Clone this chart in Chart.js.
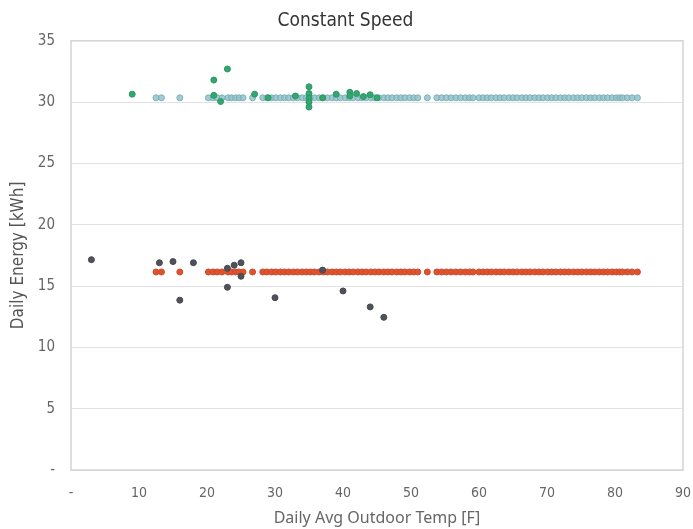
<!DOCTYPE html>
<html>
<head>
<meta charset="utf-8">
<script src="https://cdn.jsdelivr.net/npm/chart.js@4.4.1/dist/chart.umd.min.js"></script>
<style>
  html, body { margin: 0; padding: 0; background: #fff; }
  #wrap { width: 693px; height: 529px; }
</style>
</head>
<body>
<div id="wrap"><canvas id="myChart" width="693" height="529"></canvas></div>
<script>
// days that ran at the normal constant-speed level (same days for both units)
const BASE_TEMPS = [
    12.5, 13.3, 16.0, 20.2, 20.9, 21.5, 22.2, 23.1, 23.6, 24.2, 24.7, 25.3,
    26.7, 28.2, 28.8, 29.5, 30.1, 30.8, 31.4, 32.0, 32.7, 33.3, 34.0, 34.6,
    35.2, 35.8, 36.5, 37.1, 37.7, 38.4, 39.0, 39.6, 40.3, 40.9, 41.5, 42.2,
    42.8, 43.4, 44.1, 44.7, 45.3, 46.0, 46.6, 47.2, 47.9, 48.5, 49.1, 49.8,
    50.4, 51.0, 52.4, 53.8, 54.5, 55.2, 55.9, 56.6, 57.3, 58.0, 58.6, 59.1,
    60.0, 60.6, 61.2, 61.8, 62.5, 63.1, 63.7, 64.4, 65.0, 65.6, 66.3, 66.9,
    67.5, 68.2, 68.8, 69.4, 70.1, 70.7, 71.3, 72.0, 72.6, 73.2, 73.9, 74.5,
    75.1, 75.8, 76.4, 77.0, 77.7, 78.3, 78.9, 79.6, 80.2, 80.7, 81.1, 81.8,
    82.5, 83.3
]
const UPPER_LEVEL = 30.35
const LOWER_LEVEL = 16.15

// off-level days, upper unit
const UPPER_OUT_TEMPS = [9, 21, 21, 22, 23, 27, 29, 33, 35, 35, 35, 35, 35, 37, 39, 41, 41, 42, 43, 44, 45]
const UPPER_OUT_ENERGY = [30.65, 31.8, 30.55, 30.05, 32.7, 30.65, 30.35, 30.5, 31.25, 30.7, 30.3, 30.0, 29.6, 30.35, 30.65, 30.8, 30.5, 30.7, 30.45, 30.6, 30.35]

// off-level days, lower unit
const LOWER_OUT_TEMPS = [3, 13, 15, 16, 18, 23, 23, 24, 25, 25, 30, 37, 40, 44, 46]
const LOWER_OUT_ENERGY = [17.15, 16.9, 17.0, 13.85, 16.9, 16.45, 14.9, 16.7, 16.9, 15.8, 14.05, 16.3, 14.6, 13.3, 12.45]

const X_TICKS = [0, 10, 20, 30, 40, 50, 60, 70, 80, 90]
const Y_TICKS = [0, 5, 10, 15, 20, 25, 30, 35]

// no narrow font installed by name, so ask for the condensed stretch through the weight slot
const CONDENSED = "'DejaVu Sans', Roboto, sans-serif"
const NARROW = 'normal condensed'

/** toPoints: pairs up x and y arrays for a scatter dataset */
function toPoints(xs, ys) {
    return xs.map((x, i) => ({ x: x, y: ys[i] }));
}

/** flatPoints: points that all sit on one energy level */
function flatPoints(xs, level) {
    return xs.map(x => ({ x: x, y: level }));
}

/** dashZero: the original shows zero as a dash */
function dashZero(value) {
    return value === 0 ? '-' : value;
}

// draws the thin box round the plot area
const plotBorder = {
    id: 'plotBorder',
    afterDraw(chart) {
        const { ctx, chartArea: a } = chart;
        ctx.save();
        ctx.strokeStyle = '#d4d4d4';
        ctx.lineWidth = 1.5;
        ctx.strokeRect(a.left, a.top, a.right - a.left, a.bottom - a.top);
        ctx.restore();
    }
}

const chartData = [
    {
        label: 'Upper off-level',
        data: toPoints(UPPER_OUT_TEMPS, UPPER_OUT_ENERGY),
        backgroundColor: 'rgb(52, 166, 112)',
        borderColor: 'rgb(44, 152, 100)',
        borderWidth: 1,
        pointRadius: 3
    },
    {
        label: 'Lower off-level',
        data: toPoints(LOWER_OUT_TEMPS, LOWER_OUT_ENERGY),
        backgroundColor: 'rgb(80, 82, 90)',
        borderColor: 'rgb(70, 72, 80)',
        borderWidth: 1,
        pointRadius: 3
    },
    {
        label: 'Upper',
        data: flatPoints(BASE_TEMPS, UPPER_LEVEL),
        backgroundColor: 'rgba(146, 194, 202, 0.85)',
        borderColor: 'rgba(118, 174, 184, 0.9)',
        borderWidth: 1,
        pointRadius: 3
    },
    {
        label: 'Lower',
        data: flatPoints(BASE_TEMPS, LOWER_LEVEL),
        backgroundColor: 'rgb(222, 82, 48)',
        borderColor: 'rgb(210, 75, 42)',
        borderWidth: 1,
        pointRadius: 3
    }
]

const myChart = new Chart(document.getElementById('myChart'), {
    type: 'scatter',
    data: { datasets: chartData },
    plugins: [plotBorder],
    options: {
        responsive: false,
        animation: false,
        layout: { padding: { left: 8, right: 10, top: 0, bottom: 1 } },
        scales: {
            x: {
                type: 'linear',
                min: 0,
                max: 90,
                afterBuildTicks: scale => { scale.ticks = X_TICKS.map(v => ({ value: v })); },
                afterFit: scale => {
                    scale.height = 58;
                    scale.paddingLeft = 0;
                    scale.paddingRight = 0;
                },
                grid: { display: false },
                border: { display: false },
                ticks: {
                    callback: dashZero,
                    color: '#666',
                    padding: 7,
                    font: { family: CONDENSED, size: 14, weight: NARROW }
                },
                title: {
                    display: true,
                    text: 'Daily Avg Outdoor Temp [F]',
                    color: '#666',
                    padding: { top: 8, bottom: 0 },
                    font: { family: "'Noto Sans', sans-serif", size: 16 }
                }
            },
            y: {
                type: 'linear',
                min: 0,
                max: 35,
                afterBuildTicks: scale => { scale.ticks = Y_TICKS.map(v => ({ value: v })); },
                afterFit: scale => { scale.width = 63; },
                grid: { color: '#e2e2e2', lineWidth: 1, drawTicks: false },
                border: { display: false },
                ticks: {
                    callback: dashZero,
                    color: '#666',
                    padding: 16,
                    font: { family: CONDENSED, size: 15, weight: NARROW }
                },
                title: {
                    display: true,
                    text: 'Daily Energy [kWh]',
                    color: '#555',
                    padding: { top: 0, bottom: 4 },
                    font: { family: CONDENSED, size: 17, weight: NARROW }
                }
            }
        },
        plugins: {
            legend: { display: false },
            tooltip: { enabled: false },
            title: {
                display: true,
                text: 'Constant Speed',
                color: '#333',
                padding: { top: 10, bottom: 8 },
                font: { family: CONDENSED, size: 19, weight: NARROW }
            }
        }
    }
});
</script>
</body>
</html>
